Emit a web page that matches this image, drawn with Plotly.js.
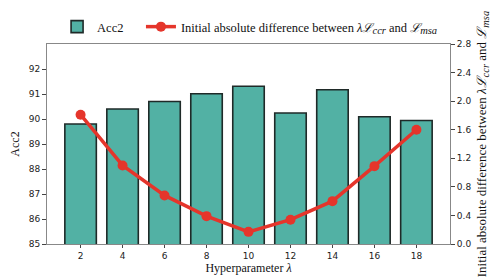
<!DOCTYPE html>
<html>
<head>
<meta charset="utf-8">
<script src="https://cdn.plot.ly/plotly-3.0.1.min.js"></script>
<style>html,body{margin:0;padding:0;background:#fff;}#chart{width:498px;height:280px;}</style>
</head>
<body>
<div id="chart"></div>
<script>
const lambdas = ["2", "4", "6", "8", "10", "12", "14", "16", "18"];
const acc2 = [89.80, 90.40, 90.70, 91.01, 91.31, 90.24, 91.17, 90.09, 89.94];
const initDiff = [1.81, 1.10, 0.68, 0.39, 0.17, 0.34, 0.60, 1.09, 1.60];
const leftTicks = [85, 86, 87, 88, 89, 90, 91, 92];
const rightTicks = [0.0, 0.4, 0.8, 1.2, 1.6, 2.0, 2.4, 2.8];

const NB = '\u00a0';
const sz = s => '<span style="font-size:' + s + 'px">';
const diffLegend = 'Initial absolute difference between <i>λℒ<sub>' + sz(10.5) + 'ccr</span></sub></i>' + NB + 'and <i>ℒ<sub>' + sz(10.5) + 'msa</span></sub></i>';
const diffTitle = 'Initial absolute difference between <i>λℒ<sub>' + sz(10.5) + 'ccr</span></sub></i>' + NB + 'and <i>ℒ<sub>' + sz(10.5) + 'msa</span></sub></i>';
const serif = 'Liberation Serif, Times New Roman, serif';
const sans = 'DejaVu Sans, sans-serif';

const traces = [
  {
    type: 'bar', x: lambdas, y: acc2, name: 'Acc2' + NB + NB + NB + NB, yaxis: 'y',
    marker: {color: '#52b1a4', line: {color: '#1f2a28', width: 1.6}}
  },
  {
    type: 'scatter', mode: 'lines+markers', x: lambdas, y: initDiff, name: diffLegend, yaxis: 'y2',
    line: {color: '#e5352b', width: 3.5}, marker: {color: '#e5352b', size: 10}
  }
];

const layout = {
  width: 498, height: 280,
  margin: {l: 47, r: 48, t: 36, b: 36},
  paper_bgcolor: '#fff', plot_bgcolor: '#fff',
  bargap: 0.25,
  showlegend: true,
  legend: {orientation: 'h', x: 0.025, xanchor: 'left', y: 1.085, yanchor: 'middle',
           font: {family: serif, size: 12.5, color: '#111'}, bgcolor: 'rgba(0,0,0,0)', itemwidth: 30},
  xaxis: {
    type: 'category', range: [-0.8, 8.8], tickvals: lambdas, ticktext: lambdas,
    showline: true, linecolor: '#888', linewidth: 1, mirror: true,
    ticks: 'outside', ticklen: 3, tickcolor: '#444',
    tickfont: {family: sans, size: 9, color: '#222'},
    showgrid: false, zeroline: false,
    title: {text: 'Hyperparameter <i>λ</i>', font: {family: serif, size: 12, color: '#111'}, standoff: 1}
  },
  yaxis: {
    range: [85, 93], tickvals: leftTicks, ticktext: leftTicks.map(String),
    showline: true, linecolor: '#888', linewidth: 1,
    ticks: 'outside', ticklen: 4, tickcolor: '#444',
    tickfont: {family: sans, size: 9, color: '#222'},
    showgrid: false, zeroline: false,
    title: {text: 'Acc2', font: {family: serif, size: 12, color: '#111'}, standoff: 6}
  },
  yaxis2: {
    overlaying: 'y', side: 'right', range: [0, 2.8], tickvals: rightTicks, ticktext: rightTicks.map(v => v.toFixed(1)),
    showline: true, linecolor: '#888', linewidth: 1,
    ticks: 'outside', ticklen: 4, tickcolor: '#444',
    tickfont: {family: sans, size: 9, color: '#222'},
    showgrid: false, zeroline: false,
    title: {text: diffTitle, font: {family: serif, size: 13, color: '#111'}, standoff: 6}
  }
};
Plotly.newPlot('chart', traces, layout, {displayModeBar: false, staticPlot: true});
</script>
</body>
</html>
